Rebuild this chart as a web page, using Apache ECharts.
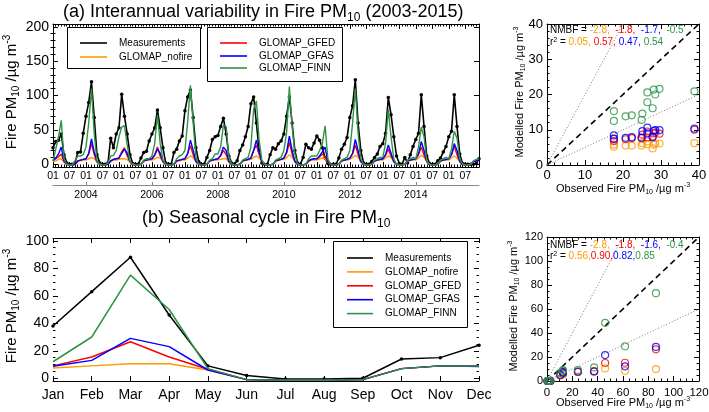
<!DOCTYPE html>
<html><head><meta charset="utf-8">
<script src="https://cdn.jsdelivr.net/npm/echarts@6/dist/echarts.min.js"></script>
<style>html,body{margin:0;padding:0;background:#fff}#c{width:709px;height:412px}</style>
</head><body><div id="c"></div>
<script>
const FONT = '"Liberation Sans", Arial, Helvetica, sans-serif';
const seriesNames = ['Measurements', 'GLOMAP_nofire', 'GLOMAP_GFED', 'GLOMAP_GFAS', 'GLOMAP_FINN'];
const seriesColors = ['#000000', '#ff9900', '#ff0000', '#0000ff', '#2e9444'];

// ---------- (a) monthly time series, Jan 2003 .. Dec 2015 (index 0..155) ----------
const monthTickLabels = ['01', '07'];
const yearTicks = [12, 36, 60, 84, 108, 132];
const yearLabels = ['2004', '2006', '2008', '2010', '2012', '2014'];

const tsMeasurements = [
  24, 33, 35, 44, 14, 2, 0, 0, 2, 17, 18, 45,
  70, 90, 120, 68, 14, 2, 0, 0, 2, 38, 24, 44,
  53, 102, 70, 44, 14, 1, 0, 0, 9, 17, 19, 34,
  44, 53, 79, 53, 24, 2, 0, 0, 17, 22, 34, 41,
  78, 98, 108, 68, 24, 4, 0, 0, 10, 20, 36, 40,
  42, 55, 67, 44, 12, 2, 0, 5, 20, 28, 40, 55,
  88, 98, 60, 20, 2, 0, 0, 14, 24, 22, 30, 34,
  44, 70, 98, 60, 20, 2, 0, 10, 29, 24, 22, 31,
  41, 35, 24, 9, 1, 0, 0, 0, 9, 22, 29, 39,
  68, 85, 123, 60, 20, 2, 0, 0, 4, 10, 15, 26,
  30, 45, 97, 72, 40, 12, 1, 0, 10, 2, 14, 26,
  36, 45, 101, 55, 12, 1, 0, 0, 5, 9, 18, 26,
  40, 48, 101, 55, 15, 1, 0, 0, 0, 0, 1, 8
];
const tsNofire = [
  4, 5, 7, 8, 3, 0, -1, -1, 0, 4, 5, 6,
  6, 8, 10, 8, 3, 0, -1, -1, 0, 4, 6, 6,
  7, 8, 8, 7, 3, 0, -1, -1, 0, 4, 6, 6,
  6, 8, 10, 9, 4, 0, -1, -1, 0, 4, 5, 6,
  6, 9, 12, 10, 4, 0, -1, -1, 0, 4, 6, 6,
  6, 7, 8, 8, 3, 0, -1, -1, 0, 4, 6, 6,
  7, 10, 12, 9, 4, 0, -1, -1, 0, 4, 6, 7,
  7, 10, 14, 10, 4, 0, -1, -1, 0, 4, 6, 6,
  6, 8, 9, 8, 3, 0, -1, -1, 0, 4, 6, 6,
  7, 10, 13, 10, 4, 0, -1, -1, 0, 4, 6, 6,
  6, 9, 12, 10, 4, 0, -1, -1, 0, 4, 6, 6,
  6, 9, 13, 10, 4, 0, -1, -1, 0, 4, 6, 6,
  6, 9, 12, 9, 4, 0, -1, -1, 0, 4, 5, 6
];
const tsGFED = [
  5, 8, 11, 15, 4, 0, -1, -1, 0, 5, 6, 7,
  8, 15, 30, 14, 4, 0, -1, -1, 0, 5, 7, 8,
  9, 18, 24, 12, 4, 0, -1, -1, 0, 5, 6, 7,
  8, 14, 25, 12, 4, 0, -1, -1, 0, 5, 6, 7,
  8, 16, 27, 14, 4, 0, -1, -1, 0, 5, 6, 7,
  8, 12, 20, 14, 4, 0, -1, -1, 0, 5, 6, 7,
  9, 20, 28, 14, 4, 0, -1, -1, 0, 5, 6, 7,
  9, 16, 32, 15, 4, 0, -1, -1, 0, 5, 7, 8,
  8, 11, 15, 10, 3, 0, -1, -1, 0, 5, 6, 7,
  9, 15, 28, 14, 4, 0, -1, -1, 0, 5, 6, 7,
  8, 13, 22, 12, 4, 0, -1, -1, 0, 5, 6, 7,
  8, 14, 25, 13, 4, 0, -1, -1, 0, 5, 6, 7,
  8, 14, 26, 14, 4, 0, -1, -1, 0, 4, 5, 6
];
const tsGFAS = [
  5, 9, 15, 25, 5, 0, -1, -1, 0, 5, 6, 7,
  8, 16, 37, 18, 4, 0, -1, -1, 0, 5, 7, 8,
  9, 16, 22, 16, 4, 0, -1, -1, 0, 5, 6, 7,
  8, 13, 22, 16, 4, 0, -1, -1, 0, 5, 6, 7,
  8, 15, 35, 20, 4, 0, -1, -1, 0, 5, 6, 7,
  8, 13, 25, 20, 4, 0, -1, -1, 0, 5, 6, 7,
  9, 20, 35, 18, 4, 0, -1, -1, 0, 5, 6, 7,
  9, 18, 41, 20, 4, 0, -1, -1, 0, 5, 7, 8,
  8, 12, 18, 25, 4, 0, -1, -1, 0, 5, 6, 7,
  9, 16, 36, 20, 4, 0, -1, -1, 0, 5, 6, 7,
  8, 14, 28, 16, 4, 0, -1, -1, 0, 5, 6, 7,
  8, 15, 33, 20, 4, 0, -1, -1, 0, 5, 6, 7,
  8, 14, 30, 20, 4, 0, -1, -1, 0, 4, 5, 6
];
const tsFINN = [
  5, 22, 40, 64, 8, 0, -1, -1, 5, 12, 12, 14,
  25, 60, 110, 45, 5, 0, -1, -1, 2, 12, 13, 20,
  40, 54, 56, 28, 4, 0, -1, -1, 0, 6, 8, 8,
  12, 30, 72, 30, 6, 0, -1, -1, 0, 8, 12, 14,
  20, 62, 115, 60, 10, 0, -1, -1, 0, 6, 8, 15,
  15, 25, 57, 55, 10, 0, -1, -1, 0, 6, 8, 10,
  25, 80, 92, 35, 6, 0, -1, -1, 0, 6, 8, 10,
  20, 46, 113, 55, 15, 0, -1, -1, 0, 8, 12, 12,
  12, 20, 30, 56, 8, 0, -1, -1, 0, 6, 8, 10,
  20, 60, 110, 45, 8, 0, -1, -1, 0, 6, 8, 10,
  10, 30, 80, 40, 8, 0, -1, -1, 0, 6, 8, 10,
  8, 25, 54, 40, 5, 0, -1, -1, 0, 6, 8, 10,
  8, 22, 48, 38, 8, 0, -1, -1, 0, 5, 7, 8
];

// ---------- annual scatter (top right) ----------
const annObs    = [17.6, 17.6, 20.7, 22.3, 24.9, 25.1, 26.4, 26.4, 27.8, 28.1, 28.5, 29.6, 38.8];
const annNofire = [5.8, 5.2, 5.5, 5.5, 5.5, 6.2, 6.7, 5.9, 4.7, 5.8, 6.0, 6.1, 6.2];
const annGFED   = [7.5, 6.8, 7.3, 7.6, 7.6, 8.6, 9.5, 7.8, 8.1, 9.0, 9.2, 8.9, 10.0];
const annGFAS   = [8.4, 7.4, 7.7, 7.9, 7.8, 9.6, 10.6, 9.0, 7.9, 9.7, 9.9, 9.9, 10.3];
const annFINN   = [15.3, 12.5, 13.8, 14.1, 12.8, 14.6, 20.6, 17.8, 16.1, 21.4, 20.0, 21.6, 20.9];
const annNMBF = ['-2.8,', '-1.8,', '-1.7,', '-0.5'];
const annR2   = ['0.05,', '0.57,', '0.47,', '0.54'];

// ---------- (b) seasonal cycle ----------
const months = ['Jan', 'Feb', 'Mar', 'Apr', 'May', 'Jun', 'Jul', 'Aug', 'Sep', 'Oct', 'Nov', 'Dec'];
const seasMeasurements = [38, 63, 88, 46, 9, 2, -0.5, -0.5, 0, 14, 15, 24];
const seasNofire       = [7.5, 9, 10.5, 10.5, 6, -1, -1.5, -1.5, -1, 7, 9, 9];
const seasGFED         = [9, 15.5, 26.5, 15.5, 6.5, -1, -1.5, -1.5, -1, 7, 9, 9];
const seasGFAS         = [8.7, 13, 29, 23, 6, -1, -1.5, -1.5, -1, 7, 9, 8.5];
const seasFINN         = [12, 30, 75, 50, 7, -1, -1.5, -1.5, -1, 7, 9, 9];

// ---------- seasonal scatter (bottom right) ----------
const monObs    = [37.2, 61.6, 86.0, 45.9, 10.5, 2.6, 0.5, 0.5, 1.3, 12.6, 12.6, 24.4];
const monNofire = [8.5, 8.5, 9.9, 10.5, 4.5, 0, 0, 0, 0, 5.5, 6.5, 7.5];
const monGFED   = [8.0, 15.2, 26.4, 15.0, 5.0, 0, 0, 0, 0, 6.5, 7.2, 7.5];
const monGFAS   = [7.9, 12.2, 28.4, 21.6, 5.0, 0, 0, 0, 0, 6.8, 7.5, 7.9];
const monFINN   = [11.3, 28.9, 73.2, 48.5, 6.5, 0.3, 0, 0, 0.2, 8.8, 8.8, 9.1];
const monNMBF = ['-2.8,', '-1.8,', '-1.6,', '-0.4'];
const monR2   = ['0.56,', '0.90,', '0.82,', '0.85'];

// reference lines (1:1, 2:1, 1:2)
const annOneToOne = [[0, 0], [40, 40]];
const annTwoToOne = [[0, 0], [20, 40]];
const annOneToTwo = [[0, 0], [40, 20]];
const monOneToOne = [[0, 0], [120, 120]];
const monTwoToOne = [[0, 0], [60, 120]];
const monOneToTwo = [[0, 0], [120, 60]];

// ================= chart =================
const K = '#000';
const lineAx = { onZero: false, lineStyle: { color: K, width: 1 } };
const tickIn = (len, extra) => Object.assign({ show: true, inside: true, length: len, lineStyle: { color: K, width: 1 } }, extra || {});
const lab = (fs, extra) => Object.assign({ show: true, color: K, fontSize: fs, fontFamily: FONT }, extra || {});
const noLab = { show: false };
const noSplit = { show: false };

function range(a, b, step, skip) {
  const out = [];
  for (let v = a; v <= b + 1e-9; v += step) if (!skip || Math.abs(v % skip) > 1e-9) out.push(v);
  return out;
}

const xAxis = [
  { gridIndex: 0, type: 'value', min: 0, max: 155, interval: 6, position: 'bottom', axisLine: lineAx,
    axisTick: tickIn(5), minorTick: { show: true, splitNumber: 6, length: 2.5, lineStyle: { color: K } },
    axisLabel: lab(10.5, { margin: 4, formatter: v => (v % 6 === 0 ? monthTickLabels[(v % 12) / 6] : '') }),
    splitLine: noSplit, minorSplitLine: noSplit },
  { gridIndex: 0, type: 'value', min: 0, max: 155, interval: 6, position: 'top', axisLine: lineAx,
    axisTick: tickIn(5), minorTick: { show: true, splitNumber: 6, length: 2.5, lineStyle: { color: K } },
    axisLabel: noLab, splitLine: noSplit },
  { gridIndex: 0, type: 'value', min: 0, max: 155, position: 'bottom', offset: 18,
    axisLine: { onZero: false, lineStyle: { color: '#888', width: 1 } },
    axisTick: { show: true, inside: true, length: 3, customValues: yearTicks, lineStyle: { color: '#888' } },
    axisLabel: lab(10.5, { margin: 5, customValues: yearTicks, formatter: v => yearLabels[yearTicks.indexOf(v)] }),
    splitLine: noSplit },
  { gridIndex: 1, type: 'value', min: 0, max: 40, interval: 10, position: 'bottom', axisLine: lineAx,
    axisTick: tickIn(5), minorTick: { show: true, splitNumber: 5, length: 2.5, lineStyle: { color: K } },
    axisLabel: lab(13, { margin: 4 }), splitLine: noSplit },
  { gridIndex: 1, type: 'value', min: 0, max: 40, interval: 10, position: 'top', axisLine: lineAx,
    axisTick: tickIn(5), minorTick: { show: true, splitNumber: 5, length: 2.5, lineStyle: { color: K } },
    axisLabel: noLab, splitLine: noSplit },
  { gridIndex: 2, type: 'category', data: months, boundaryGap: false, position: 'bottom', axisLine: lineAx,
    axisTick: tickIn(5), axisLabel: lab(14, { margin: 7, interval: 0 }), splitLine: noSplit },
  { gridIndex: 2, type: 'category', data: months, boundaryGap: false, position: 'top', axisLine: lineAx,
    axisTick: tickIn(5), axisLabel: noLab, splitLine: noSplit },
  { gridIndex: 3, type: 'value', min: 0, max: 120, interval: 20, position: 'bottom', axisLine: lineAx,
    axisTick: tickIn(5), minorTick: { show: true, splitNumber: 4, length: 2.5, lineStyle: { color: K } },
    axisLabel: lab(11.5, { margin: 6 }), splitLine: noSplit },
  { gridIndex: 3, type: 'value', min: 0, max: 120, interval: 20, position: 'top', axisLine: lineAx,
    axisTick: tickIn(5), minorTick: { show: true, splitNumber: 4, length: 2.5, lineStyle: { color: K } },
    axisLabel: noLab, splitLine: noSplit }
];

const tsMajor = [0, 50, 100, 150, 200];
const tsMinor = range(10, 190, 10, 50);
const seMajor = [0, 20, 40, 60, 80, 100];
const seMinor = range(5, 95, 5, 20);

const yAxis = [
  { gridIndex: 0, type: 'value', min: -4, max: 204, position: 'left', axisLine: lineAx,
    axisTick: tickIn(5, { customValues: tsMajor }), axisLabel: lab(14, { margin: 4, customValues: tsMajor }), splitLine: noSplit },
  { gridIndex: 0, type: 'value', min: -4, max: 204, position: 'left', axisLine: { show: false },
    axisTick: tickIn(2.5, { customValues: tsMinor }), axisLabel: noLab, splitLine: noSplit },
  { gridIndex: 0, type: 'value', min: -4, max: 204, position: 'right', axisLine: lineAx,
    axisTick: tickIn(5, { customValues: tsMajor }), axisLabel: noLab, splitLine: noSplit },
  { gridIndex: 0, type: 'value', min: -4, max: 204, position: 'right', axisLine: { show: false },
    axisTick: tickIn(2.5, { customValues: tsMinor }), axisLabel: noLab, splitLine: noSplit },
  { gridIndex: 1, type: 'value', min: 0, max: 40, interval: 10, position: 'left', axisLine: lineAx,
    axisTick: tickIn(5), minorTick: { show: true, splitNumber: 5, length: 2.5, lineStyle: { color: K } },
    axisLabel: lab(13, { margin: 4 }), splitLine: noSplit },
  { gridIndex: 1, type: 'value', min: 0, max: 40, interval: 10, position: 'right', axisLine: lineAx,
    axisTick: tickIn(5), minorTick: { show: true, splitNumber: 5, length: 2.5, lineStyle: { color: K } },
    axisLabel: noLab, splitLine: noSplit },
  { gridIndex: 2, type: 'value', min: -2, max: 102, position: 'left', axisLine: lineAx,
    axisTick: tickIn(5, { customValues: seMajor }), axisLabel: lab(14, { margin: 4, customValues: seMajor }), splitLine: noSplit },
  { gridIndex: 2, type: 'value', min: -2, max: 102, position: 'left', axisLine: { show: false },
    axisTick: tickIn(2.5, { customValues: seMinor }), axisLabel: noLab, splitLine: noSplit },
  { gridIndex: 2, type: 'value', min: -2, max: 102, position: 'right', axisLine: lineAx,
    axisTick: tickIn(5, { customValues: seMajor }), axisLabel: noLab, splitLine: noSplit },
  { gridIndex: 2, type: 'value', min: -2, max: 102, position: 'right', axisLine: { show: false },
    axisTick: tickIn(2.5, { customValues: seMinor }), axisLabel: noLab, splitLine: noSplit },
  { gridIndex: 3, type: 'value', min: 0, max: 120, interval: 20, position: 'left', axisLine: lineAx,
    axisTick: tickIn(5), minorTick: { show: true, splitNumber: 4, length: 2.5, lineStyle: { color: K } },
    axisLabel: lab(11, { margin: 4 }), splitLine: noSplit },
  { gridIndex: 3, type: 'value', min: 0, max: 120, interval: 20, position: 'right', axisLine: lineAx,
    axisTick: tickIn(5), minorTick: { show: true, splitNumber: 4, length: 2.5, lineStyle: { color: K } },
    axisLabel: noLab, splitLine: noSplit }
];

const series = [];
const tsAll = [tsMeasurements, tsNofire, tsGFED, tsGFAS, tsFINN];
tsAll.forEach((arr, k) => {
  series.push({
    name: seriesNames[k], type: 'line', xAxisIndex: 0, yAxisIndex: 0,
    data: arr.map((v, i) => [i, v]),
    symbol: k === 0 ? 'circle' : 'none', symbolSize: 3.5, showSymbol: k === 0,
    lineStyle: { color: seriesColors[k], width: k === 0 ? 1.6 : 1.4 },
    itemStyle: { color: seriesColors[k] }, z: 2 + k, silent: true
  });
});
const seasAll = [seasMeasurements, seasNofire, seasGFED, seasGFAS, seasFINN];
seasAll.forEach((arr, k) => {
  series.push({
    name: seriesNames[k], type: 'line', xAxisIndex: 5, yAxisIndex: 6,
    data: arr,
    symbol: k === 0 ? 'circle' : 'none', symbolSize: 3.5, showSymbol: k === 0,
    lineStyle: { color: seriesColors[k], width: 1.5 },
    itemStyle: { color: seriesColors[k] }, z: 2 + k, silent: true
  });
});
function refLine(data, xi, yi, dashed) {
  return { type: 'line', xAxisIndex: xi, yAxisIndex: yi, data: data, symbol: 'none', silent: true, z: 1,
    lineStyle: dashed ? { color: K, width: 1.6, type: [6, 4] } : { color: '#777', width: 1, type: [1, 2] } };
}
series.push(refLine(annOneToOne, 3, 4, true), refLine(annTwoToOne, 3, 4, false), refLine(annOneToTwo, 3, 4, false));
series.push(refLine(monOneToOne, 7, 10, true), refLine(monTwoToOne, 7, 10, false), refLine(monOneToTwo, 7, 10, false));
function scat(obs, mod, k, xi, yi) {
  return { type: 'scatter', xAxisIndex: xi, yAxisIndex: yi, data: obs.map((o, i) => [o, mod[i]]),
    symbol: 'circle', symbolSize: 7, silent: true, z: 3 + k,
    itemStyle: { color: 'rgba(0,0,0,0)', borderColor: seriesColors[k], borderWidth: 1.2 } };
}
[annNofire, annGFED, annGFAS, annFINN].forEach((m, j) => series.push(scat(annObs, m, j + 1, 3, 4)));
[monNofire, monGFED, monGFAS, monFINN].forEach((m, j) => series.push(scat(monObs, m, j + 1, 7, 10)));

// ---------- graphics: titles, axis names, legends, stats ----------
function rich(fs, color) {
  const c = color || K;
  return {
    n: { fontSize: fs, fontFamily: FONT, fill: c, color: c, lineHeight: Math.round(fs * 1.25) },
    s: { fontSize: Math.round(fs * 0.66), fontFamily: FONT, fill: c, color: c, verticalAlign: 'bottom', lineHeight: Math.round(fs * 0.66) },
    p: { fontSize: Math.round(fs * 0.66), fontFamily: FONT, fill: c, color: c, verticalAlign: 'top', lineHeight: Math.round(fs * 0.66) }
  };
}
function rtext(x, y, txt, fs, opts) {
  return Object.assign({ type: 'text', x: x, y: y, silent: true,
    style: { text: txt, rich: rich(fs), align: 'left', verticalAlign: 'middle', fontFamily: FONT, fontSize: fs, fill: K } }, opts || {});
}
const unitTxt = (pre) => `{n|${pre}Fire PM}{s|10}{n| /µg m}{p|-3}`;
const G = [];
G.push(rtext(63, 12, '{n|(a) Interannual variability in Fire PM}{s|10}{n| (2003-2015)}', 18));
G.push(rtext(142, 218, '{n|(b) Seasonal cycle in Fire PM}{s|10}', 18));
G.push(Object.assign(rtext(12, 92, unitTxt(''), 15), { rotation: Math.PI / 2 }));
G.push(Object.assign(rtext(12, 306, unitTxt(''), 15), { rotation: Math.PI / 2 }));
G.push(Object.assign(rtext(520, 92, unitTxt('Modelled '), 11), { rotation: Math.PI / 2 }));
G.push(Object.assign(rtext(514, 306, unitTxt('Modelled '), 11), { rotation: Math.PI / 2 }));
G.push(rtext(623, 189, unitTxt('Observed '), 11));
G.push(rtext(623, 403, unitTxt('Observed '), 11));
G.forEach(g => { if (g.rotation || g.x === 623) g.style.align = 'center'; });

function box(x, y, w, h) {
  return { type: 'rect', silent: true, shape: { x: x + 0.5, y: y + 0.5, width: w, height: h },
    style: { fill: '#fff', stroke: K, lineWidth: 1 }, z: 100 };
}
function legItem(x1, x2, y, tx, k) {
  return [
    { type: 'line', silent: true, shape: { x1: x1, y1: y, x2: x2, y2: y }, style: { stroke: seriesColors[k], lineWidth: 1.6 }, z: 101 },
    { type: 'text', silent: true, x: tx, y: y, style: { text: seriesNames[k], fontSize: 10, fontFamily: FONT, fill: K, align: 'left', verticalAlign: 'middle' }, z: 101 }
  ];
}
G.push(box(67, 27, 133, 41));
G.push(...legItem(80, 107, 43, 119, 0), ...legItem(80, 107, 57, 119, 1));
G.push(box(207, 27, 135, 54));
G.push(...legItem(220, 247, 43, 259, 2), ...legItem(220, 247, 56, 259, 3), ...legItem(220, 247, 68, 259, 4));
G.push(box(333, 241, 134, 86));
[0, 1, 2, 3, 4].forEach((k, i) => G.push(...legItem(347, 373, 258 + i * 13.9, 385, k)));

function statsText(x, y1, y2, nmbf, r2, sep) {
  const rs = {
    k: { fontSize: 10, fontFamily: FONT, fill: K },
    o: { fontSize: 10, fontFamily: FONT, fill: seriesColors[1] },
    r: { fontSize: 10, fontFamily: FONT, fill: seriesColors[2] },
    b: { fontSize: 10, fontFamily: FONT, fill: seriesColors[3] },
    g: { fontSize: 10, fontFamily: FONT, fill: seriesColors[4] },
    p: { fontSize: 7, fontFamily: FONT, fill: K, verticalAlign: 'top', lineHeight: 7 }
  };
  const keys = ['o', 'r', 'b', 'g'];
  const l1 = '{k|NMBF = }' + nmbf.map((t, i) => `{${keys[i]}|${t}}`).join('{k|  }');
  const l2 = '{k|r}{p|2}{k| = }' + r2.map((t, i) => `{${keys[i]}|${t}}`).join(sep ? `{k|${sep}}` : '');
  return [
    { type: 'text', silent: true, x: x, y: y1, z: 50, style: { text: l1, rich: rs, align: 'left', verticalAlign: 'middle', fontSize: 10 } },
    { type: 'text', silent: true, x: x, y: y2, z: 50, style: { text: l2, rich: rs, align: 'left', verticalAlign: 'middle', fontSize: 10 } }
  ];
}
G.push(...statsText(550, 30, 42, annNMBF, annR2, ' '));
G.push(...statsText(550, 245, 256, monNMBF, monR2, ''));

const option = {
  animation: false,
  backgroundColor: '#fff',
  textStyle: { fontFamily: FONT },
  grid: [
    { left: 53, top: 24, width: 426, height: 143, outerBoundsMode: 'none' },
    { left: 547, top: 24, width: 152, height: 141, outerBoundsMode: 'none' },
    { left: 53, top: 238, width: 426, height: 143, outerBoundsMode: 'none' },
    { left: 547, top: 237, width: 152, height: 144, outerBoundsMode: 'none' }
  ],
  xAxis: xAxis,
  yAxis: yAxis,
  series: series,
  graphic: { elements: G }
};
const chart = echarts.init(document.getElementById('c'));
chart.setOption(option);
</script>
</body></html>
